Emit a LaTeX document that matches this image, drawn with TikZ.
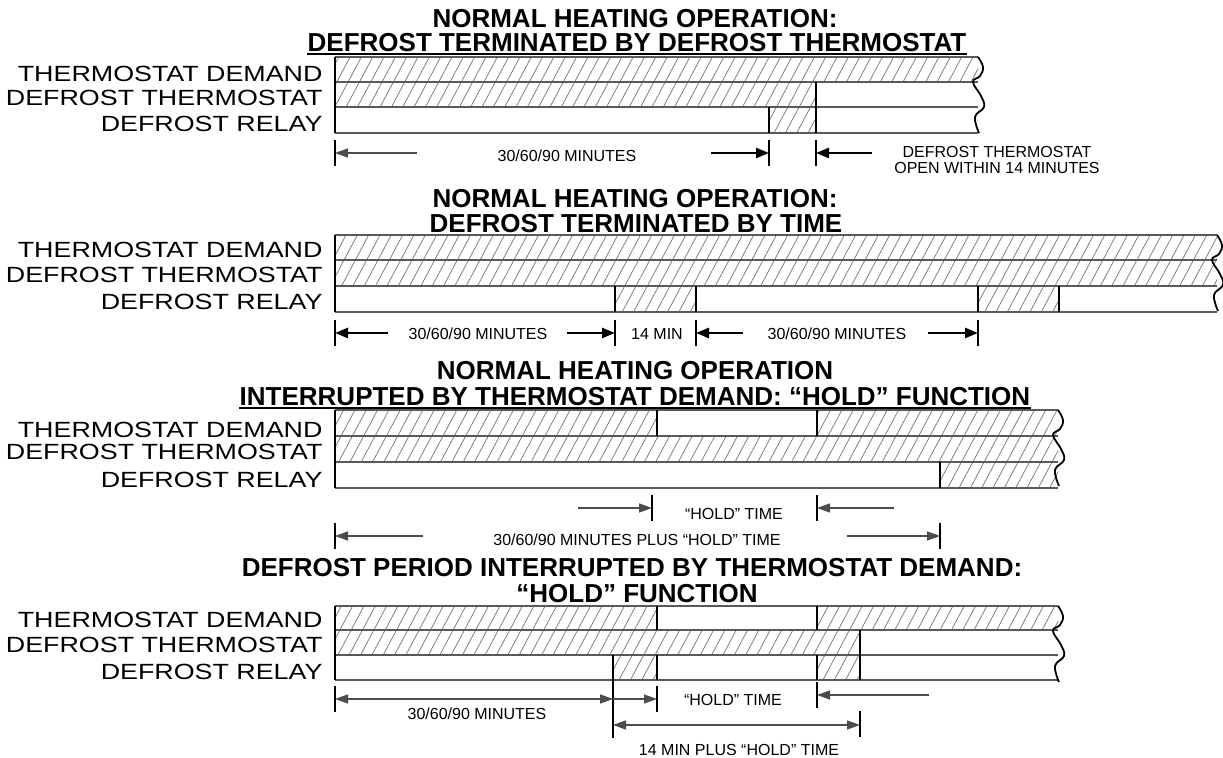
\documentclass[tikz,border=0pt]{standalone}
\usepackage{fontspec}
\setmainfont{Liberation Sans}
\usetikzlibrary{patterns.meta,arrows.meta,calc}

\begin{document}
\begin{tikzpicture}[x=0.5pt, y=-0.5pt,
  ttl/.style={font=\fontsize{13}{15}\selectfont\bfseries, anchor=base, inner sep=0pt},
  lbl/.style={font=\fontsize{11}{13}\selectfont, anchor=base east, inner sep=0pt, xscale=1.22, transform shape},
  note/.style={font=\fontsize{8}{8}\selectfont, anchor=base, inner sep=0pt, align=center},
  hatch/.style={pattern={Lines[angle=62,distance=5pt,line width=0.35pt]}, pattern color=black!55},
  rowline/.style={black!65, line width=1pt},
  edge/.style={black, line width=1.1pt},
  tick/.style={black, line width=1.1pt},
  dim/.style={black!70, line width=0.7pt, -{Triangle[length=6.5pt,width=4.5pt]}},
  dimboth/.style={black!70, line width=0.7pt, {Triangle[length=6.5pt,width=4.5pt]}-{Triangle[length=6.5pt,width=4.5pt]}},
  dimb/.style={black, line width=1.3pt, -{Triangle[length=6.5pt,width=5pt]}}]
  \fill[white] (0,0) rectangle (1223,758);
  \useasboundingbox (0,0) rectangle (1223,758);

  % --- panel 1: terminated by defrost thermostat
  \node[ttl] (t1a) at (635,28) {NORMAL HEATING OPERATION:};
  \node[ttl] (t1b) at (637,52) {DEFROST TERMINATED BY DEFROST THERMOSTAT};
  \draw[line width=1pt] ($(t1b.base west)+(0,2)$) -- ($(t1b.base east)+(0,2)$);
  \fill[hatch] (335,57) rectangle (978,82);
  \fill[hatch] (335,82) rectangle (816,107);
  \fill[hatch] (769,107) rectangle (816,133);
  \foreach \y in {57,82,107,133} \draw[rowline] (335,\y) -- (978,\y);
  \draw[edge] (335,57) -- (335,133);
  \draw[edge] (769,107) -- (769,133) (816,82) -- (816,133);
  \node[lbl] (l1a) at (323,82) {THERMOSTAT DEMAND};
  \node[lbl] (l1b) at (323,106) {DEFROST THERMOSTAT};
  \node[lbl] (l1c) at (323,132) {DEFROST RELAY};
  \coordinate (d1a) at (335,153); \coordinate (e1a) at (417,153);
  \coordinate (d1b) at (769,153); \coordinate (e1b) at (711,153);
  \coordinate (d1c) at (816,153); \coordinate (e1c) at (872,153);
  \foreach \c in {d1a,d1b,d1c} \draw[tick] (\c) ++(0,-13) -- ++(0,26);
  \draw[dim] (e1a) -- (d1a);
  \draw[dimb] (e1b) -- (d1b);
  \draw[dimb] (e1c) -- (d1c);
  \node[note] (n1a) at (567,162) {30/60/90 MINUTES};
  \node[note] (n1b) at (997,174) {DEFROST THERMOSTAT\\OPEN WITHIN 14 MINUTES};

  % --- panel 2: terminated by time
  \node[ttl] (t2a) at (635,208) {NORMAL HEATING OPERATION:};
  \node[ttl] (t2b) at (636,233) {DEFROST TERMINATED BY TIME};
  \draw[line width=1pt] ($(t2b.base west)+(0,2)$) -- ($(t2b.base east)+(0,2)$);
  \fill[hatch] (335,235) rectangle (1217,286);
  \fill[hatch] (615,286) rectangle (696,312);
  \fill[hatch] (978,286) rectangle (1059,312);
  \foreach \y in {235,260,286,312} \draw[rowline] (335,\y) -- (1217,\y);
  \draw[edge] (335,235) -- (335,312);
  \foreach \x in {615,696,978,1059} \draw[edge] (\x,286) -- (\x,312);
  \node[lbl] (l2a) at (323,258) {THERMOSTAT DEMAND};
  \node[lbl] (l2b) at (323,283) {DEFROST THERMOSTAT};
  \node[lbl] (l2c) at (323,310) {DEFROST RELAY};
  \coordinate (d2a) at (335,333); \coordinate (e2a) at (388,333);
  \coordinate (d2b) at (615,333); \coordinate (e2b) at (567,333);
  \coordinate (d2c) at (696,333); \coordinate (e2c) at (743,333);
  \coordinate (d2d) at (978,333); \coordinate (e2d) at (928,333);
  \foreach \c in {d2a,d2b,d2c,d2d} \draw[tick] (\c) ++(0,-13) -- ++(0,26);
  \draw[dimb] (e2a) -- (d2a);
  \draw[dimb] (e2b) -- (d2b);
  \draw[dimb] (e2c) -- (d2c);
  \draw[dimb] (e2d) -- (d2d);
  \node[note] (n2a) at (478,340) {30/60/90 MINUTES};
  \node[note] (n2b) at (657,340) {14 MIN};
  \node[note] (n2c) at (837,340) {30/60/90 MINUTES};

  % --- panel 3: hold function
  \node[ttl] (t3a) at (635,380) {NORMAL HEATING OPERATION};
  \node[ttl] (t3b) at (635,406) {INTERRUPTED BY THERMOSTAT DEMAND: “HOLD” FUNCTION};
  \draw[line width=1pt] ($(t3b.base west)+(0,2)$) -- ($(t3b.base east)+(0,2)$);
  \fill[hatch] (335,410) rectangle (657,436);
  \fill[hatch] (817,410) rectangle (1058,436);
  \fill[hatch] (335,436) rectangle (1058,462);
  \fill[hatch] (940,462) rectangle (1058,488);
  \foreach \y in {410,436,462,488} \draw[rowline] (335,\y) -- (1058,\y);
  \draw[edge] (335,410) -- (335,488);
  \draw[edge] (657,410) -- (657,436) (817,410) -- (817,436) (940,462) -- (940,488);
  \node[lbl] (l3a) at (323,438) {THERMOSTAT DEMAND};
  \node[lbl] (l3b) at (323,460) {DEFROST THERMOSTAT};
  \node[lbl] (l3c) at (323,488) {DEFROST RELAY};
  \coordinate (d3a) at (652,508); \coordinate (e3a) at (578,508);
  \coordinate (d3b) at (817,508); \coordinate (e3b) at (894,508);
  \coordinate (d3c) at (335,536); \coordinate (e3c) at (423,536);
  \coordinate (d3d) at (940,536); \coordinate (e3d) at (847,536);
  \foreach \c in {d3a,d3b,d3c,d3d} \draw[tick] (\c) ++(0,-13) -- ++(0,26);
  \draw[dim] (e3a) -- (d3a);
  \draw[dim] (e3b) -- (d3b);
  \draw[dim] (e3c) -- (d3c);
  \draw[dim] (e3d) -- (d3d);
  \node[note] (n3a) at (734,520) {“HOLD” TIME};
  \node[note] (n3b) at (637,546) {30/60/90 MINUTES PLUS “HOLD” TIME};

  % --- panel 4: defrost period interrupted
  \node[ttl] (t4a) at (632,577) {DEFROST PERIOD INTERRUPTED BY THERMOSTAT DEMAND:};
  \node[ttl] (t4b) at (637,603) {“HOLD” FUNCTION};
  \fill[hatch] (335,606) rectangle (657,630);
  \fill[hatch] (817,606) rectangle (1058,630);
  \fill[hatch] (335,630) rectangle (860,655);
  \fill[hatch] (613,655) rectangle (657,680);
  \fill[hatch] (817,655) rectangle (860,680);
  \foreach \y in {606,630,655,680} \draw[rowline] (335,\y) -- (1058,\y);
  \draw[edge] (335,606) -- (335,680);
  \draw[edge] (657,606) -- (657,630) (657,655) -- (657,680);
  \draw[edge] (817,606) -- (817,630) (817,655) -- (817,680);
  \draw[edge] (860,630) -- (860,680) (613,655) -- (613,680);
  \node[lbl] (l4a) at (323,628) {THERMOSTAT DEMAND};
  \node[lbl] (l4b) at (323,653) {DEFROST THERMOSTAT};
  \node[lbl] (l4c) at (323,680) {DEFROST RELAY};
  \coordinate (d4a) at (335,699); \coordinate (d4b) at (613,699);
  \coordinate (d4c) at (657,699);
  \coordinate (d4e) at (817,695); \coordinate (e4e) at (929,695);
  \coordinate (d4f) at (613,725); \coordinate (d4g) at (860,725);
  \foreach \c in {d4a,d4c,d4e} \draw[tick] (\c) ++(0,-13) -- ++(0,26);
  \draw[tick] (d4g) ++(0,-14) -- ++(0,26);
  \draw[tick] (613,680) -- (613,738);
  \draw[dimboth] (d4a) -- (d4b);
  \draw[dim] (d4b) -- (d4c);
  \draw[dim] (e4e) -- (d4e);
  \draw[dimboth] (d4f) -- (d4g);
  \node[note] (n4a) at (477,720) {30/60/90 MINUTES};
  \node[note] (n4b) at (733,706) {“HOLD” TIME};
  \node[note] (n4c) at (739,756) {14 MIN PLUS “HOLD” TIME};

  % wavy break at the right end of every chart
  \foreach \x/\y in {978/57, 1217/235, 1058/410, 1058/606}
    \draw[edge, line width=0.9pt] plot[smooth, tension=0.7] coordinates {(\x,\y) ({\x+5},{\y+10}) ({\x+2},{\y+19}) ({\x-5},{\y+25}) ({\x+3},{\y+39}) ({\x+6},{\y+50}) ({\x-3},{\y+60}) ({\x+1},{\y+76})};
\end{tikzpicture}
\end{document}
